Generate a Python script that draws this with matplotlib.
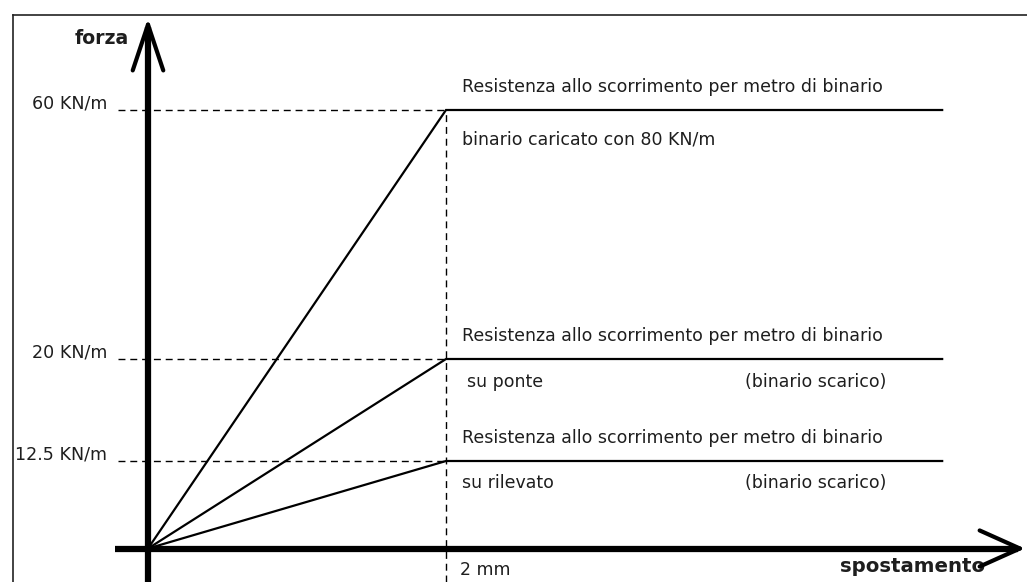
import numpy as np
import matplotlib
matplotlib.use("Agg")
import matplotlib.pyplot as plt
from matplotlib.lines import Line2D

# ---------------- data ----------------
levels = [60, 20, 12.5]                      # KN/m
level_labels = ["60 KN/m", "20 KN/m", "12.5 KN/m"]
slip_mm = 2.0                                # displacement at which resistance is reached
x_end_mm = 5.33                              # extent of the plateau lines
top_texts = ["Resistenza allo scorrimento per metro di binario"] * 3
bottom_left = ["binario caricato con 80 KN/m", "su ponte", "su rilevato"]
bottom_right = ["", "(binario scarico)", "(binario scarico)"]
slip_label = "2 mm"

# schematic (not proportional) vertical scale of the original drawing
anchor_vals = np.array([0.0, 12.5, 20.0, 60.0])
anchor_pos = np.array([0.0, 87.5, 189.5, 438.5])
s_lo = (anchor_pos[1] - anchor_pos[0]) / (anchor_vals[1] - anchor_vals[0])
s_hi = (anchor_pos[-1] - anchor_pos[-2]) / (anchor_vals[-1] - anchor_vals[-2])


def fwd(v):
    v = np.asarray(v, float)
    out = np.interp(v, anchor_vals, anchor_pos)
    out = np.where(v < anchor_vals[0], anchor_pos[0] + (v - anchor_vals[0]) * s_lo, out)
    out = np.where(v > anchor_vals[-1], anchor_pos[-1] + (v - anchor_vals[-1]) * s_hi, out)
    return out


def inv(p):
    p = np.asarray(p, float)
    out = np.interp(p, anchor_pos, anchor_vals)
    out = np.where(p < anchor_pos[0], anchor_vals[0] + (p - anchor_pos[0]) / s_lo, out)
    out = np.where(p > anchor_pos[-1], anchor_vals[-1] + (p - anchor_pos[-1]) / s_hi, out)
    return out


W, H = 1027, 582
fig = plt.figure(figsize=(W / 100, H / 100), dpi=100)
fig.patch.set_facecolor("white")
ax = fig.add_axes([0, 0, 1, 1])
ax.set_axis_off()
ax.set_yscale("function", functions=(fwd, inv))

xlim = (-148 / 149, (W - 148) / 149)
ylim = (float(inv(-33.5)), float(inv(H - 33.5)))

TXT = "#1e1e1e"
FONT = "DejaVu Sans"

# frame of the original figure
fig.add_artist(Line2D([13 / W, 1], [1 - 15 / H, 1 - 15 / H], color="#222222", lw=1.2,
                      transform=fig.transFigure))
fig.add_artist(Line2D([13 / W, 13 / W], [0, 1 - 15 / H], color="#222222", lw=1.2,
                      transform=fig.transFigure))

# axes arrows
y_bottom = ylim[0]
y_tip = float(inv(530.5))
ax.plot([0, 0], [y_bottom, y_tip - 1.5], color="black", lw=4.5, solid_capstyle="butt", zorder=4)
ax.annotate("", xy=(0, y_tip), xytext=(0, y_tip - 5),
            arrowprops=dict(arrowstyle="->, head_length=33, head_width=11", lw=3.0,
                            color="black", shrinkA=0, shrinkB=0, mutation_scale=1), zorder=4)
x_tip = 5.886
ax.plot([-0.22, x_tip - 0.05], [0, 0], color="black", lw=4.5, solid_capstyle="butt", zorder=4)
ax.annotate("", xy=(x_tip, 0), xytext=(x_tip - 0.5, 0),
            arrowprops=dict(arrowstyle="->, head_length=29, head_width=13", lw=3.0,
                            color="black", shrinkA=0, shrinkB=0, mutation_scale=1), zorder=4)

# dashed guides
for lv in levels:
    ax.plot([-0.2, slip_mm], [lv, lv], color="black", lw=1.0, ls=(0, (5, 3.5)), zorder=2)
ax.plot([slip_mm, slip_mm], [y_bottom, max(levels)], color="black", lw=1.0,
        ls=(0, (5, 3.5)), zorder=2)

# force-displacement laws
for lv in levels:
    ax.plot([0, slip_mm, x_end_mm], [0, lv, lv], color="black", lw=1.6,
            solid_joinstyle="miter", zorder=3)

# level labels
for lv, lab in zip(levels, level_labels):
    ax.annotate(lab, xy=(-0.273, lv), xytext=(0, 4.5), textcoords="offset points",
                ha="right", va="center", fontsize=12.6, color=TXT, family=FONT)

# descriptions
below_off = [-21, -16.5, -16]
for lv, t, bl, br, bo in zip(levels, top_texts, bottom_left, bottom_right, below_off):
    ax.annotate(t, xy=(2.107, lv), xytext=(0, 16.5), textcoords="offset points",
                ha="left", va="center", fontsize=12.5, color=TXT, family=FONT)
    dx = 3.5 if bl == "su ponte" else 0
    ax.annotate(bl, xy=(2.107, lv), xytext=(dx, bo), textcoords="offset points",
                ha="left", va="center", fontsize=12.5, color=TXT, family=FONT)
    if br:
        ax.annotate(br, xy=(4.953, lv), xytext=(0, bo), textcoords="offset points",
                    ha="right", va="center", fontsize=12.5, color=TXT, family=FONT)

ax.annotate(slip_label, xy=(slip_mm, 0), xytext=(10, -15.5), textcoords="offset points",
            ha="left", va="center", fontsize=12.4, color=TXT, family=FONT)

# axis titles
ax.text(129 / W, 1 - 38 / H, "forza", transform=ax.transAxes, ha="right", va="center",
        fontsize=13.6, fontweight="bold", color=TXT, family=FONT)
ax.text(985 / W, 1 - 567 / H, "spostamento", transform=ax.transAxes, ha="right",
        va="center", fontsize=14.2, fontweight="bold", color=TXT, family=FONT)

ax.set_xlim(*xlim)
ax.set_ylim(*ylim)
fig.savefig("out.png", dpi=100, facecolor="white")
